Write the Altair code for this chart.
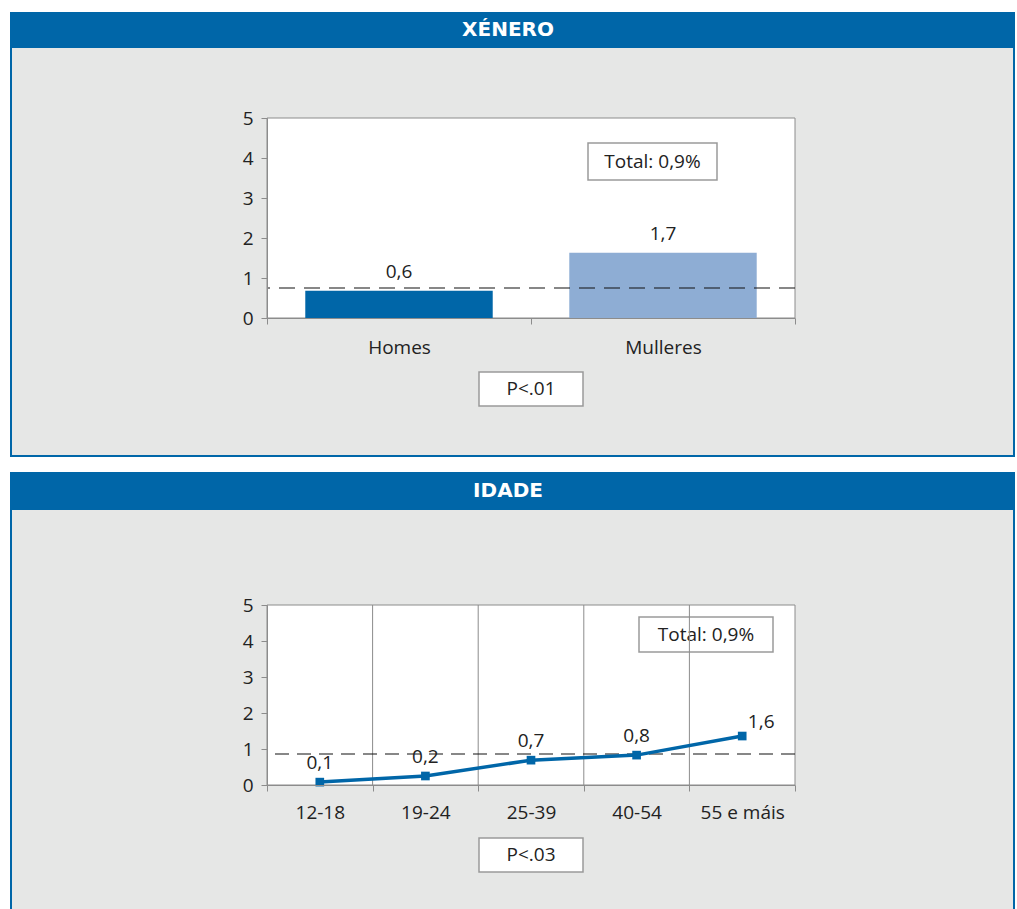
import altair as alt
import pandas as pd

# ---- data ----
titles = ["XÉNERO", "IDADE"]

gender_cats = ["Homes", "Mulleres"]
gender_vals = [0.68, 1.63]
gender_labels = ["0,6", "1,7"]
gender_colors = ["#0066a8", "#8eadd4"]
gender_total = 0.75
gender_total_text = "Total: 0,9%"
gender_p = "P<.01"

age_cats = ["12-18", "19-24", "25-39", "40-54", "55 e máis"]
age_vals = [0.08, 0.25, 0.69, 0.83, 1.36]
age_labels = ["0,1", "0,2", "0,7", "0,8", "1,6"]
age_total = 0.86
age_total_text = "Total: 0,9%"
age_p = "P<.03"

y_ticks = [0, 1, 2, 3, 4, 5]

# ---- styles ----
BLUE = "#0066a8"
GREY = "#e6e7e6"
LINEGREY = "#8c8c8c"
FONT = "Open Sans"
FS = 19
W = 528

one = alt.Chart(pd.DataFrame({"k": [0]}))


def panel(title, top, header_bottom, bottom, inner_bottom, height):
    blue = one.mark_rect(color=BLUE).encode(
        x=alt.value(-257), x2=alt.value(748), y=alt.value(top), y2=alt.value(bottom))
    grey = one.mark_rect(color=GREY).encode(
        x=alt.value(-255), x2=alt.value(746), y=alt.value(header_bottom),
        y2=alt.value(inner_bottom))
    head = one.mark_text(font="DejaVu Sans", fontWeight="bold", fontSize=20,
                         color="white", align="center", baseline="middle").encode(
        x=alt.value(241), y=alt.value((top + header_bottom) / 2), text=alt.value(title))
    plot = one.mark_rect(fill="white", stroke=LINEGREY, strokeWidth=1).encode(
        x=alt.value(0), x2=alt.value(W), y=alt.value(0), y2=alt.value(height))
    return [blue, grey, head, plot]


def box(x1, x2, y1, y2, txt):
    r = one.mark_rect(fill="white", stroke="#9a9a9a", strokeWidth=1.5).encode(
        x=alt.value(x1), x2=alt.value(x2), y=alt.value(y1), y2=alt.value(y2))
    t = one.mark_text(font=FONT, fontSize=FS, color="#222", align="center",
                      baseline="middle").encode(
        x=alt.value((x1 + x2) / 2), y=alt.value((y1 + y2) / 2), text=alt.value(txt))
    return [r, t]


yscale = alt.Scale(domain=[0, 5], nice=False)


def yaxis():
    return alt.Axis(title=None, values=y_ticks, tickCount=20, format="d", grid=False,
                    labelPadding=8, tickSize=6, zindex=1, domainColor=LINEGREY,
                    tickColor=LINEGREY, labelColor="#222", labelFont=FONT,
                    labelFontSize=FS, labelOverlap=False)


def xaxis(pad):
    return alt.Axis(title=None, tickBand="extent", labelAngle=0, labelPadding=pad,
                    tickSize=6, zindex=1, domainColor=LINEGREY, tickColor=LINEGREY,
                    labelColor="#222", labelFont=FONT, labelFontSize=FS, grid=False,
                    labelOverlap=False)


# ---- top: gender ----
H1 = 200
gdf = pd.DataFrame({"cat": gender_cats, "val": gender_vals, "label": gender_labels})
gx_scale = alt.Scale(type="band", paddingInner=0, paddingOuter=0)

bars = alt.Chart(gdf).mark_bar(width={"band": 0.71}).encode(
    x=alt.X("cat:N", sort=gender_cats, scale=gx_scale, axis=xaxis(14)),
    y=alt.Y("val:Q", scale=yscale, axis=yaxis()),
    color=alt.Color("cat:N", scale=alt.Scale(domain=gender_cats, range=gender_colors),
                    legend=None),
)
blabels = alt.Chart(gdf).mark_text(font=FONT, fontSize=FS, color="#222",
                                   baseline="middle", dy=-19).encode(
    x=alt.X("cat:N", sort=gender_cats, axis=xaxis(14)),
    y=alt.Y("val:Q", axis=yaxis()), text="label:N")
grule = alt.Chart(pd.DataFrame({"t": [gender_total]})).mark_rule(
    color="#111", strokeDash=[16, 9], strokeWidth=1.1).encode(
    y=alt.Y("t:Q", axis=yaxis()))

top = alt.layer(
    *panel(titles[0], -106, -70, 339, 337, H1),
    *box(321, 450, 25, 62, gender_total_text),
    *box(212, 316, 254, 288, gender_p),
    bars, grule, blabels,
).properties(width=W, height=H1)

# ---- bottom: age ----
H2 = 180
adf = pd.DataFrame({"cat": age_cats, "val": age_vals, "label": age_labels})
ax_scale = alt.Scale(type="band", paddingInner=0, paddingOuter=0)
step = W / len(age_cats)

grid = alt.Chart(adf.iloc[1:]).mark_rule(color=LINEGREY, strokeWidth=1,
                                         xOffset=-step / 2).encode(
    x=alt.X("cat:N", sort=age_cats, axis=xaxis(12)))
line = alt.Chart(adf).mark_line(color=BLUE, strokeWidth=3.5).encode(
    x=alt.X("cat:N", sort=age_cats, scale=ax_scale, axis=xaxis(12)),
    y=alt.Y("val:Q", scale=yscale, axis=yaxis()))
pts = alt.Chart(adf).mark_square(color=BLUE, size=75, opacity=1).encode(
    x=alt.X("cat:N", sort=age_cats, axis=xaxis(12)), y=alt.Y("val:Q", axis=yaxis()))
arule = alt.Chart(pd.DataFrame({"t": [age_total]})).mark_rule(
    color="#111", strokeDash=[14, 8], strokeWidth=1.1).encode(y=alt.Y("t:Q", axis=yaxis()))
alabels = alt.Chart(adf.iloc[:-1]).mark_text(font=FONT, fontSize=FS, color="#222",
                                             baseline="middle", dy=-19).encode(
    x=alt.X("cat:N", sort=age_cats, axis=xaxis(12)), y=alt.Y("val:Q", axis=yaxis()),
    text="label:N")
alabel_last = alt.Chart(adf.iloc[-1:]).mark_text(font=FONT, fontSize=FS, color="#222",
                                                 baseline="middle", dx=19, dy=-14).encode(
    x=alt.X("cat:N", sort=age_cats, axis=xaxis(12)), y=alt.Y("val:Q", axis=yaxis()),
    text="label:N")

bottom = alt.layer(
    *panel(titles[1], -133, -95, 304, 304, H2),
    *box(372, 506, 12, 47, age_total_text),
    *box(212, 316, 233, 267, age_p),
    grid, arule, line, pts, alabels, alabel_last,
).properties(width=W, height=H2)

chart = alt.vconcat(top, bottom, spacing=15).properties(
    padding={"top": 12, "left": 10, "right": 0, "bottom": 0},
    background="white",
).configure_view(stroke=None)

chart.save("out.html", embed_options={"renderer": "svg", "actions": False})
